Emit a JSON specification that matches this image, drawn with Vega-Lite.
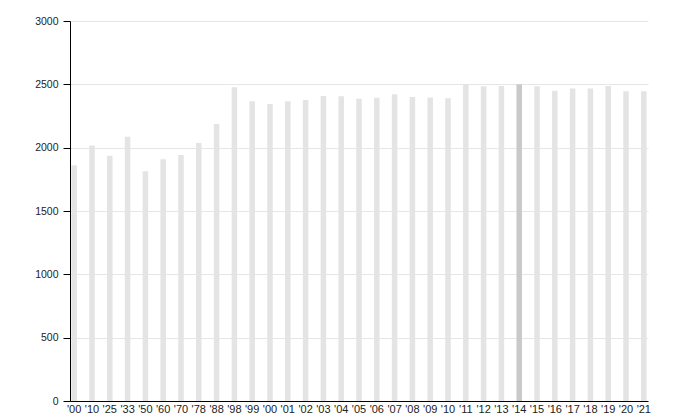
{
  "$schema": "https://vega.github.io/schema/vega-lite/v6.json",
  "width": 578,
  "height": 380,
  "autosize": {"type": "none"},
  "padding": {"left": 70, "top": 21, "right": 38, "bottom": 19},
  "background": "white",
  "config": {
    "view": {"stroke": null},
    "font": "Liberation Sans"
  },
  "data": {
    "values": [
      {"year": "1900", "value": 1862, "hl": "n"},
      {"year": "1910", "value": 2018, "hl": "n"},
      {"year": "1925", "value": 1937, "hl": "n"},
      {"year": "1933", "value": 2087, "hl": "n"},
      {"year": "1950", "value": 1813, "hl": "n"},
      {"year": "1960", "value": 1908, "hl": "n"},
      {"year": "1970", "value": 1942, "hl": "n"},
      {"year": "1978", "value": 2037, "hl": "n"},
      {"year": "1988", "value": 2187, "hl": "n"},
      {"year": "1998", "value": 2476, "hl": "n"},
      {"year": "1999", "value": 2366, "hl": "n"},
      {"year": "2000", "value": 2345, "hl": "n"},
      {"year": "2001", "value": 2366, "hl": "n"},
      {"year": "2002", "value": 2376, "hl": "n"},
      {"year": "2003", "value": 2408, "hl": "n"},
      {"year": "2004", "value": 2406, "hl": "n"},
      {"year": "2005", "value": 2387, "hl": "n"},
      {"year": "2006", "value": 2395, "hl": "n"},
      {"year": "2007", "value": 2421, "hl": "n"},
      {"year": "2008", "value": 2400, "hl": "n"},
      {"year": "2009", "value": 2397, "hl": "n"},
      {"year": "2010", "value": 2390, "hl": "n"},
      {"year": "2011", "value": 2500, "hl": "n"},
      {"year": "2012", "value": 2484, "hl": "n"},
      {"year": "2013", "value": 2487, "hl": "n"},
      {"year": "2014", "value": 2500, "hl": "y"},
      {"year": "2015", "value": 2484, "hl": "n"},
      {"year": "2016", "value": 2450, "hl": "n"},
      {"year": "2017", "value": 2468, "hl": "n"},
      {"year": "2018", "value": 2468, "hl": "n"},
      {"year": "2019", "value": 2487, "hl": "n"},
      {"year": "2020", "value": 2445, "hl": "n"},
      {"year": "2021", "value": 2445, "hl": "n"}
    ]
  },
  "mark": {"type": "bar"},
  "encoding": {
    "x": {
      "field": "year",
      "type": "ordinal",
      "sort": null,
      "scale": {"paddingInner": 0.69, "paddingOuter": 0.08},
      "axis": {
        "title": null,
        "labelAngle": 0,
        "labelExpr": "\"'\" + substring(datum.value, 2, 4)",
        "ticks": false,
        "domainColor": "#000000",
        "domainWidth": 1,
        "labelPadding": 2,
        "labelFontSize": 11,
        "labelColor": "#222222",
        "labelFont": "Liberation Sans",
        "labelOverlap": false
      }
    },
    "y": {
      "field": "value",
      "type": "quantitative",
      "scale": {"domain": [0, 3000], "nice": false},
      "axis": {
        "title": null,
        "format": "d",
        "values": [0, 500, 1000, 1500, 2000, 2500, 3000],
        "domainColor": "#000000",
        "tickColor": "#000000",
        "tickSize": 7,
        "labelPadding": 5,
        "labelFontSize": 10.5,
        "labelColor": "#222222",
        "labelFont": "Liberation Sans",
        "gridColor": "#e6e6e6",
        "gridWidth": 1
      }
    },
    "color": {
      "field": "hl",
      "type": "nominal",
      "scale": {"domain": ["n", "y"], "range": ["#e4e4e4", "#c9c9c9"]},
      "legend": null
    }
  }
}
